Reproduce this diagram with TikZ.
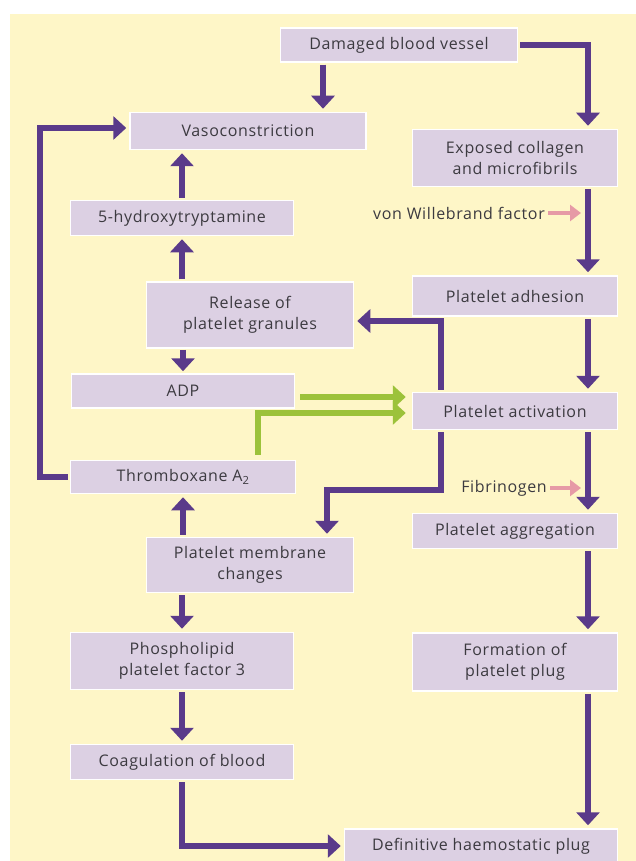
\documentclass[tikz,border=0pt]{standalone}
\usepackage{fontspec}
\setmainfont[LetterSpace=4]{Open Sans}
\usepackage{xcolor}
\usetikzlibrary{arrows.meta,calc}
\definecolor{paper}{HTML}{FEF6C7}
\definecolor{lilac}{HTML}{DCD0E3}
\definecolor{inkgray}{HTML}{3C3A40}
\definecolor{flowpurple}{HTML}{5A3A8A}
\definecolor{flowgreen}{HTML}{9CC23A}
\definecolor{flowpink}{HTML}{E69AA6}
\newcommand{\flowbox}[5]{\node[stepbox,minimum width=#3,minimum height=#4] (#1) at (#2) {#5};}
\tikzset{
	stepbox/.style={draw=white,line width=1.5pt,fill=lilac,text=inkgray,align=center,
		font=\fontsize{16}{21}\selectfont,inner sep=0pt},
	sidetext/.style={text=inkgray,font=\fontsize{16}{21}\selectfont,inner sep=0pt},
	flow/.style={flowpurple,line width=6pt,-{Triangle[length=13pt,width=23pt]},shorten >=3pt,shorten <=2pt},
	gflow/.style={flowgreen,line width=6pt,-{Triangle[length=13pt,width=23pt]},shorten >=6pt,shorten <=5pt},
	pflow/.style={flowpink,line width=4.5pt,-{Triangle[length=11pt,width=16pt]},shorten >=4pt,shorten <=3pt}
}

\begin{document}
\begin{tikzpicture}[x=1pt,y=-1pt]
		\useasboundingbox (0,0) rectangle (636,861);
		\fill[paper] (10,14) rectangle (636,861);
		
		% columns of the long connectors
		\coordinate (rcol) at (588,0);
		\coordinate (mcol) at (441,0);
		\coordinate (lcol) at (40,0);
		\coordinate (bend) at (441,490);
		
		\flowbox{dbv}{399,45}{237}{34}{Damaged blood vessel}
		\flowbox{vaso}{248,131}{236}{37}{Vasoconstriction}
		\flowbox{ecm}{515,158}{205}{57}{Exposed collagen\\and microfibrils}
		\flowbox{ht}{182,218}{223}{35}{5-hydroxytryptamine}
		\flowbox{adh}{515,296}{205}{40}{Platelet adhesion}
		\flowbox{rel}{250,315}{207}{66}{Release of\\platelet granules}
		\flowbox{adp}{183,391}{223}{34}{ADP}
		\flowbox{act}{515,411}{205}{37}{Platelet activation}
		\flowbox{txa}{183,477}{225}{33}{Thromboxane A\textsubscript{2}}
		\flowbox{agg}{515,531}{205}{35}{Platelet aggregation}
		\flowbox{pmc}{250,565}{207}{55}{Platelet membrane\\changes}
		\flowbox{ppf}{182,661}{223}{57}{Phospholipid\\platelet factor 3}
		\flowbox{fpp}{515,662}{205}{58}{Formation of\\platelet plug}
		\flowbox{coag}{182,762}{223}{35}{Coagulation of blood}
		\flowbox{dhp}{481,846}{273}{34}{Definitive haemostatic plug}
		
		\node[sidetext,anchor=east] (vwf) at (545,213) {von Willebrand factor};
		\node[sidetext,anchor=east] (fib) at (547,488) {Fibrinogen};
		
		% right column
		\draw[flow] (dbv.east) -| (rcol |- ecm.north);
		\draw[flow] (rcol |- ecm.south) -- (rcol |- adh.north);
		\draw[flow] (rcol |- adh.south) -- (rcol |- act.north);
		\draw[flow] (rcol |- act.south) -- (rcol |- agg.north);
		\draw[flow] (rcol |- agg.south) -- (rcol |- fpp.north);
		\draw[flow] (rcol |- fpp.south) -- (rcol |- dhp.north);
		\draw[pflow] (vwf.east) -- ([xshift=-3pt]rcol |- vwf.east);
		\draw[pflow] (fib.east) -- ([xshift=-3pt]rcol |- fib.east);
		
		% left column
		\draw[flow] ([xshift=-76pt]dbv.south) -- ([xshift=-76pt]dbv.south |- vaso.north);
		\draw[flow] (ht.north) -- (ht.north |- vaso.south);
		\draw[flow] (ht.south |- rel.north) -- (ht.south);
		\draw[flow,shorten <=1pt,shorten >=2pt] (adp.north |- rel.south) -- (adp.north);
		\draw[flow] (txa.west) -- (lcol |- txa.west) |- ([yshift=3pt]vaso.west);
		\draw[flow] (txa.south |- pmc.north) -- (txa.south);
		\draw[flow] (ppf.north |- pmc.south) -- (ppf.north);
		\draw[flow] (ppf.south) -- (coag.north);
		\draw[flow] (coag.south) |- (dhp.west);
		
		% feedback from activation
		\draw[flow] (mcol |- act.north) |- ([yshift=-6pt]rel.east);
		\draw[flow] (mcol |- act.south) -- (bend) -| ([xshift=77pt]pmc.north);
		\draw[gflow] ([yshift=-6pt]adp.east) -- ([yshift=-6pt]adp.east -| act.west);
		\draw[gflow] ([xshift=75pt]txa.north) |- ([yshift=-2pt]act.west);
		
	\end{tikzpicture}
\end{document}
